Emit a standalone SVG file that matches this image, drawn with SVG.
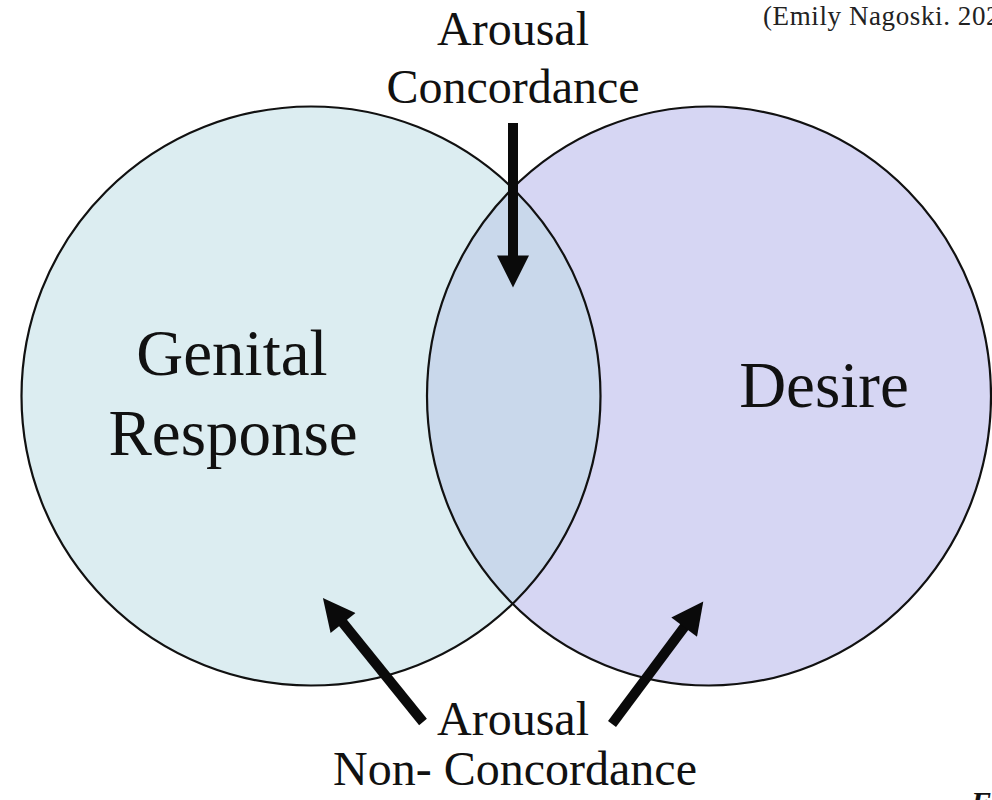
<svg xmlns="http://www.w3.org/2000/svg" width="992" height="800" viewBox="0 0 992 800">
  <style>
    .lbl { font-family: "Liberation Serif", "Times New Roman", serif; fill: #111; text-anchor: middle; }
    .big { font-size: 65px; }
    .mid { font-size: 48px; }
    .ring { fill: none; stroke: #111; stroke-width: 2.2; }
    .arrow { stroke: #0a0a0a; stroke-width: 10; fill: none; marker-end: url(#head); }
  </style>
  <defs>
    <marker id="head" viewBox="0 0 10 10" refX="2" refY="5" markerWidth="3.4" markerHeight="3.2" orient="auto" markerUnits="strokeWidth">
      <path d="M0,0 L10,5 L0,10 z" fill="#0a0a0a"/>
    </marker>
    <clipPath id="leftClip">
      <circle cx="311" cy="396" r="289.5"/>
    </clipPath>
  </defs>
  <rect width="992" height="800" fill="#ffffff"/>

  <g id="genital-response">
    <circle cx="311" cy="396" r="289.5" fill="#dcedf1"/>
  </g>
  <g id="desire">
    <ellipse cx="709" cy="396" rx="282" ry="289.5" fill="#d6d6f3"/>
  </g>
  <g id="overlap">
    <ellipse cx="709" cy="396" rx="282" ry="289.5" fill="#c9d8eb" clip-path="url(#leftClip)"/>
  </g>
  <g id="outlines">
    <circle class="ring" cx="311" cy="396" r="289.5"/>
    <ellipse class="ring" cx="709" cy="396" rx="282" ry="289.5"/>
  </g>

  <g id="labels">
    <text class="lbl big" x="232" y="375">Genital</text>
    <text class="lbl big" x="233" y="455">Response</text>
    <text class="lbl big" x="824" y="407">Desire</text>
  </g>

  <g id="concordance-label">
    <text class="lbl mid" x="513" y="45">Arousal</text>
    <text class="lbl mid" x="513" y="103">Concordance</text>
  </g>

  <g id="non-concordance-label">
    <text class="lbl mid" x="513" y="735">Arousal</text>
    <text class="lbl mid" x="515" y="785">Non- Concordance</text>
  </g>

  <g id="connectors">
    <line class="arrow" x1="513" y1="123" x2="513" y2="262"/>
    <line class="arrow" x1="423" y1="722" x2="339" y2="618"/>
    <line class="arrow" x1="612" y1="724" x2="688" y2="622"/>
  </g>

  <text x="763" y="25" style="font-family: 'Liberation Serif', 'Times New Roman', serif; font-size: 27px; fill: #222; letter-spacing: 0.6px;">(Emily Nagoski. 202</text>
  <text x="971" y="812" style="font-family: 'Liberation Serif', 'Times New Roman', serif; font-size: 30px; font-weight: bold; font-style: italic; fill: #111;">F</text>
</svg>
